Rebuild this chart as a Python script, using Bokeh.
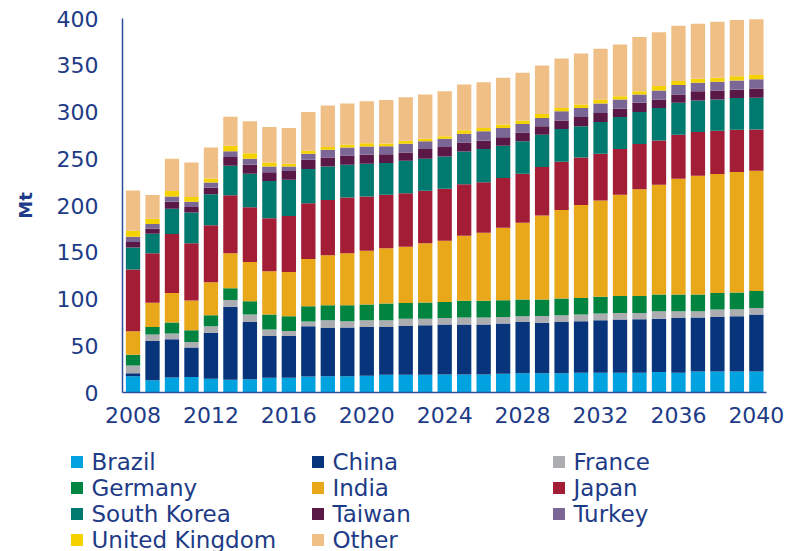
from bokeh.plotting import figure
from bokeh.layouts import column
from bokeh.models import ColumnDataSource, FixedTicker, Range1d, Legend, LegendItem
from bokeh.embed import file_html
from bokeh.resources import INLINE

years = list(range(2008, 2041))

brazil = [17.5, 13, 16, 16.5, 14.7, 13.6, 14.3, 15.8, 15.8, 17.2, 17.5, 17.5, 17.9,
          19, 19, 19, 19.3, 19.3, 19.3, 20, 20.7, 20.7, 20.7, 21.1, 21.1, 21.1,
          21.1, 21.8, 21.1, 22.5, 22.5, 22.5, 22.5]
china = [3, 42, 41, 31.5, 49.3, 78, 61.1, 44.6, 44.6, 53.6, 51.5, 51.9, 52.1,
         51, 52.1, 52.9, 53.3, 53.3, 53.3, 53.7, 54.7, 54, 54.7, 55.1, 56.2, 56.9,
         57.2, 57.2, 58.6, 57.7, 58.3, 59, 60.9]
france = [8.5, 7, 6, 6, 6.8, 7.2, 8, 6.9, 5.4, 5.1, 8.3, 6.8, 7.3,
          7.3, 7.9, 7.1, 7.1, 7.5, 7.5, 7.1, 6.1, 7.2, 7.2, 7.2, 7.1, 7.1,
          6.8, 7.9, 7.2, 6.7, 7.9, 7.5, 7.1]
germany = [11.5, 8, 12, 12.5, 11.8, 12.6, 14.2, 16, 15.7, 16.4, 16, 17.1, 16.7,
           17.9, 16.8, 17.2, 17.2, 17.9, 17.9, 17.9, 17.9, 17.5, 17.9, 17.8, 17.9, 18.2,
           18.2, 17.9, 17.9, 17.9, 17.8, 18, 18]
india = [25, 26, 31.5, 32, 35.4, 37.5, 41.9, 46.5, 47.5, 50.4, 53.4, 55.5, 57.7,
         59, 60.1, 63.3, 65.5, 69.7, 72.9, 77.6, 82.2, 89.8, 94.8, 99.4, 103, 108.1,
         114.2, 117.3, 123.7, 127, 127.1, 128.7, 128.7]
japan = [66, 53, 63, 61, 61, 62, 58.5, 56.5, 59.8, 59.8, 59.3, 59.7, 57.9,
         57.2, 57.3, 56.2, 55.4, 55.1, 54.1, 53, 52.3, 51.9, 51.5, 50.8, 50.1, 49,
         48.3, 47.5, 47.3, 46.8, 46.4, 45.4, 44]
south_korea = [23.5, 20.7, 27, 33, 33, 31.5, 36, 40, 38.7, 36.5, 35.7, 35.1, 35,
               34, 34.7, 34.3, 34.7, 35, 35.4, 34.6, 34.7, 34.7, 35.1, 33.3, 34, 34.3,
               34.3, 34.8, 34, 33.6, 33.3, 34, 34]
taiwan = [6, 5.5, 7.5, 6, 6.9, 9.5, 9.6, 9.2, 9.5, 10, 9.7, 9.9, 9.6,
          9.5, 8.9, 10.4, 10.1, 9.7, 8.9, 9, 9.6, 8.9, 9.1, 10, 9.6, 8.9,
          9.7, 8.9, 8.9, 10, 9.7, 8.8, 10]
turkey = [5.5, 5, 5.6, 5.5, 5.7, 6, 6.4, 6.1, 4.7, 6.4, 8.2, 8.5, 8.9,
          8.5, 9.3, 8.2, 8.9, 9.3, 10, 10, 9, 9, 9.8, 9.7, 10, 9.7,
          8.9, 9.7, 10.2, 9, 9.3, 9.7, 9.7]
united_kingdom = [6.5, 5.6, 6, 5, 4.4, 6, 6, 4.3, 2.9, 3.2, 2.9, 3, 3.6,
                  2.9, 3.2, 2.9, 2.5, 3.7, 3.6, 3.6, 3.8, 4.2, 3.6, 3.5, 4.3, 3.5,
                  3.5, 4.9, 4.3, 4.3, 4.3, 4.6, 4.6]
other = [43, 25.4, 34.5, 37, 33, 31, 34, 38, 38.4, 41.4, 44.4, 44, 44.7,
         46.5, 46.5, 47.2, 48.2, 48.9, 49, 50.1, 50.9, 51.9, 52.9, 54.7, 54.3, 55.5,
         58, 57.3, 59.1, 58.8, 59.8, 60.1, 59.6]

series = ["Brazil", "China", "France", "Germany", "India", "Japan",
          "South Korea", "Taiwan", "Turkey", "United Kingdom", "Other"]
values = [brazil, china, france, germany, india, japan,
          south_korea, taiwan, turkey, united_kingdom, other]
colors = ["#00a3e0", "#07347a", "#abadb0", "#00843f", "#e9a81a", "#a31d37",
          "#007a6e", "#591846", "#7a6796", "#f3d200", "#efbf86"]

x_ticks = list(range(2008, 2041, 4))
y_ticks = list(range(0, 401, 50))

TEXT = "#1d3b86"
AXIS = "#2e4e9c"
FONT = "DejaVu Sans"

data = {"year": years}
for name, vals in zip(series, values):
    data[name] = vals
src = ColumnDataSource(data)

# ---- main chart ----
p = figure(width=797, height=441, output_backend="svg", toolbar_location=None,
           x_range=Range1d(2007.46, 2040.52), y_range=Range1d(0, 400),
           min_border_left=122, min_border_right=31, min_border_top=18,
           min_border_bottom=49, frame_align=False)
p.outline_line_color = None
p.xgrid.visible = False
p.ygrid.visible = False

p.vbar_stack(series, x="year", width=0.735, source=src,
             fill_color=colors, line_color=None, line_width=0)

for ax in (p.xaxis[0], p.yaxis[0]):
    ax.axis_line_color = AXIS
    ax.axis_line_width = 1.5
    ax.major_tick_line_color = None
    ax.minor_tick_line_color = None
    ax.major_tick_out = 0
    ax.major_tick_in = 0
    ax.major_label_text_font = FONT
    ax.major_label_text_font_size = "22px"
    ax.major_label_text_color = TEXT

p.xaxis[0].ticker = FixedTicker(ticks=x_ticks)
p.xaxis[0].major_label_standoff = 14
p.yaxis[0].ticker = FixedTicker(ticks=y_ticks)
p.yaxis[0].major_label_standoff = 24
p.yaxis[0].axis_label = "Mt"
p.yaxis[0].axis_label_text_font = FONT
p.yaxis[0].axis_label_text_font_size = "18px"
p.yaxis[0].axis_label_text_font_style = "bold"
p.yaxis[0].axis_label_text_color = TEXT
p.yaxis[0].axis_label_standoff = 18

# ---- legend panel (its own figure; the stacked renderers sit outside its view) ----
lg = figure(width=797, height=110, output_backend="svg", toolbar_location=None,
            x_range=Range1d(0, 1), y_range=Range1d(0, 1),
            min_border_left=0, min_border_right=0, min_border_top=0, min_border_bottom=0,
            x_axis_type=None, y_axis_type=None, frame_align=False)
lg.outline_line_color = None
lg.xgrid.visible = False
lg.ygrid.visible = False

swatches = lg.vbar_stack(series, x="year", width=0.735, source=src,
                         fill_color=colors, line_color=None, line_width=0)

columns = [[0, 3, 6, 9], [1, 4, 7, 10], [2, 5, 8]]
col_x = [68.5, 309.5, 550.5]
pitch = 26
first_center = 20.5
for cx, idxs in zip(col_x, columns):
    bottom = first_center + pitch * (len(idxs) - 1) + pitch / 2
    leg = Legend(items=[LegendItem(label=series[i], renderers=[swatches[i]]) for i in idxs],
                 location=(cx, 110 - bottom), orientation="vertical",
                 glyph_width=15, glyph_height=15, label_standoff=8, spacing=0,
                 label_height=pitch, padding=0, margin=0,
                 border_line_color=None, background_fill_alpha=0,
                 label_text_font=FONT, label_text_font_size="23px",
                 label_text_color=TEXT)
    lg.add_layout(leg, "center")

layout = column(p, lg, spacing=0)
open("out.html", "w").write(file_html(layout, INLINE))
